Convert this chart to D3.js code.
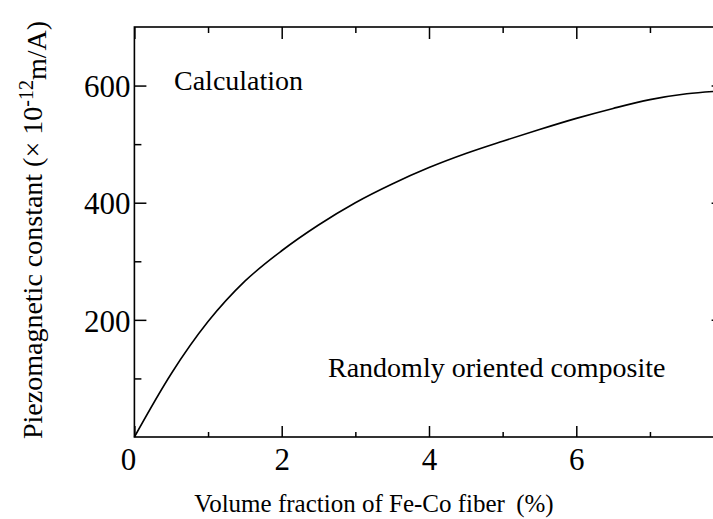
<!DOCTYPE html>
<html>
<head>
<meta charset="utf-8">
<script src="https://cdn.jsdelivr.net/npm/d3@7"></script>
<style>
  html, body { margin: 0; padding: 0; background: #ffffff; }
  svg { display: block; font-family: 'Liberation Serif', 'Times New Roman', serif; }
</style>
</head>
<body>
<div id="viz"></div>
<script>
// values
const volumeFraction = [0, 0.5, 1, 1.5, 2, 2.5, 3, 3.5, 4, 4.5, 5, 5.5, 6, 6.5, 7, 7.5, 8];
const piezoConstant = [0, 108, 197, 266, 318, 362, 400, 432, 460, 484, 505, 525, 544, 561, 576, 586, 591];
const xMajorTicks = [0, 2, 4, 6];
const xMinorTicks = [1, 3, 5, 7];
const yMajorTicks = [200, 400, 600];
const yMinorTicks = [100, 300, 500];

const totalWidth = 713;
const totalHeight = 519;

const data = volumeFraction.map((v, i) => ({ x: v, y: piezoConstant[i] }));

// the right side of the frame sits just past the window edge
const xScale = d3.scaleLinear().domain([0, 8]).range([134.4, 723.6]);
const yScale = d3.scaleLinear().domain([0, 700]).range([437, 27]);

const svg = d3
  .select('#viz')
  .append('svg')
  .attr('width', totalWidth)
  .attr('height', totalHeight);

const [x0, x1] = xScale.range();
const [y0, y1] = yScale.range();

// bottom axis
const bottomMajor = svg
  .append('g')
  .attr('transform', `translate(0, ${y0})`)
  .call(d3.axisBottom(xScale).tickValues(xMajorTicks).tickSize(-11).tickPadding(0).tickFormat((t) => `${t}`));
bottomMajor.selectAll('text')
  .attr('y', 33)
  .attr('dy', 0)
  .attr('x', (t) => (t === 0 ? -6.5 : 0))
  .style('font-size', '31px')
  .style('font-family', 'Liberation Serif, serif')
  .attr('fill', '#000');
svg.append('g')
  .attr('transform', `translate(0, ${y0})`)
  .call(d3.axisBottom(xScale).tickValues(xMinorTicks).tickSize(-5).tickFormat(''));

// top axis
svg.append('g')
  .attr('transform', `translate(0, ${y1})`)
  .call(d3.axisTop(xScale).tickValues(xMajorTicks).tickSize(-12).tickFormat(''));
svg.append('g')
  .attr('transform', `translate(0, ${y1})`)
  .call(d3.axisTop(xScale).tickValues(xMinorTicks).tickSize(-6).tickFormat(''));

// left axis
const leftMajor = svg
  .append('g')
  .attr('transform', `translate(${x0}, 0)`)
  .call(d3.axisLeft(yScale).tickValues(yMajorTicks).tickSize(-12).tickPadding(4));
leftMajor.selectAll('text')
  .attr('dy', '0.36em')
  .style('font-size', '31px')
  .style('font-family', 'Liberation Serif, serif')
  .attr('fill', '#000');
svg.append('g')
  .attr('transform', `translate(${x0}, 0)`)
  .call(d3.axisLeft(yScale).tickValues(yMinorTicks).tickSize(-7).tickFormat(''));

// right axis
svg.append('g')
  .attr('transform', `translate(${x1}, 0)`)
  .call(d3.axisRight(yScale).tickValues(yMajorTicks).tickSize(-12).tickFormat(''));
svg.append('g')
  .attr('transform', `translate(${x1}, 0)`)
  .call(d3.axisRight(yScale).tickValues(yMinorTicks).tickSize(-7).tickFormat(''));

svg.selectAll('.domain').remove();
svg.selectAll('.tick line').attr('stroke', '#000').attr('stroke-width', 1.5);

// frame
svg.append('rect')
  .attr('x', x0)
  .attr('y', y1)
  .attr('width', x1 - x0)
  .attr('height', y0 - y1)
  .attr('fill', 'none')
  .attr('stroke', '#000')
  .attr('stroke-width', 1.6);

// calculated curve
const line = d3.line()
  .x((d) => xScale(d.x))
  .y((d) => yScale(d.y))
  .curve(d3.curveMonotoneX);

svg.append('path')
  .datum(data)
  .attr('fill', 'none')
  .attr('stroke', '#000')
  .attr('stroke-width', 1.6)
  .attr('d', line);

// annotations
svg.append('text')
  .attr('x', 174)
  .attr('y', 90)
  .style('font-size', '28px')
  .text('Calculation');

svg.append('text')
  .attr('x', 328)
  .attr('y', 377)
  .style('font-size', '28px')
  .text('Randomly oriented composite');

// x axis label
svg.append('text')
  .attr('x', 374)
  .attr('y', 512)
  .attr('text-anchor', 'middle')
  .style('font-size', '25px')
  .text('Volume fraction of Fe-Co fiber\u2009 (%)');

// y axis label
const yLabel = svg.append('text')
  .attr('transform', 'translate(42, 230) rotate(-90)')
  .attr('text-anchor', 'middle')
  .style('font-size', '28px');
yLabel.append('tspan').text('Piezomagnetic constant (\u00d7 10');
yLabel.append('tspan').attr('dy', '-0.45em').style('font-size', '20px').text('-12');
yLabel.append('tspan').attr('dy', '0.45em').text('m/A)');
</script>
</body>
</html>
